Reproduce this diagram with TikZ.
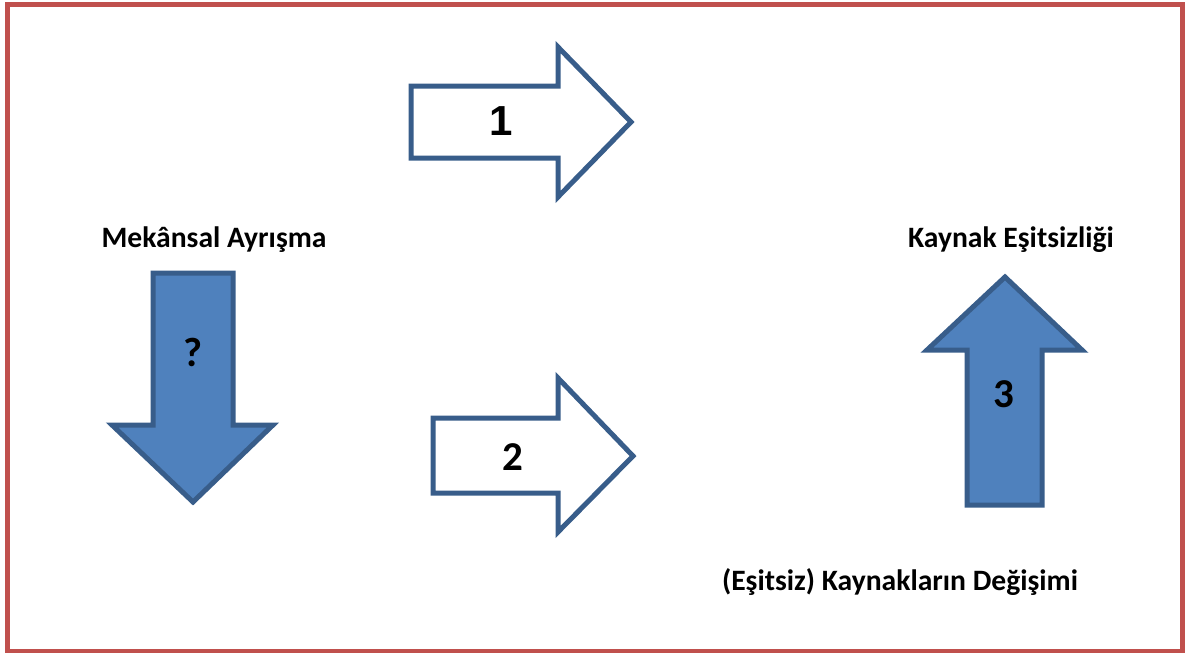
\documentclass[tikz,border=0pt]{standalone}
\usepackage{fontspec}
\setmainfont{Carlito}
\newfontfamily\arialfont{Liberation Sans}
\definecolor{arrowfill}{HTML}{4F81BD}
\definecolor{arrowline}{HTML}{385D8A}
\definecolor{frame}{HTML}{C0504D}
\begin{document}
\begin{tikzpicture}[x=1pt,y=-1pt,
  outline/.style={draw=arrowline,line width=5pt,fill=white,line join=miter},
  solid arrow/.style={draw=arrowline,line width=5pt,fill=arrowfill,line join=miter},
  label/.style={font=\fontsize{29.6}{32}\selectfont\bfseries,anchor=base,inner sep=0pt},
  num/.style={font=\fontsize{41}{44}\selectfont\bfseries,inner sep=0pt}]
\useasboundingbox (0,0) rectangle (1195,653);
\draw[frame,line width=5pt] (7.5,4.5) rectangle (1182.5,651);
% arrow 1
\draw[outline] (411,86) -- (558,86) -- (558,47) -- (631,122) -- (558,197) -- (558,158) -- (411,158) -- cycle;
\node[num,font=\fontsize{42}{46}\selectfont\bfseries\arialfont] (n1) at (501,121) {1};
% arrow 2
\draw[outline] (433,418) -- (558,418) -- (558,378) -- (633,456) -- (558,532) -- (558,493) -- (433,493) -- cycle;
\node[num] (n2) at (513,457) {2};
% down arrow
\draw[solid arrow] (153,273) -- (233,273) -- (233,425) -- (273,425) -- (193,502) -- (112,425) -- (153,425) -- cycle;
\node[num] (nq) at (193,352) {?};
% up arrow
\draw[solid arrow] (1005,277) -- (1082,350) -- (1042,350) -- (1042,505) -- (967,505) -- (967,350) -- (927,350) -- cycle;
\node[num] (n3) at (1004,394) {3};
% labels
\node[label] (seg) at (214,247) {Mekânsal Ayrışma};
\node[label] (ineq) at (1011,247) {Kaynak Eşitsizliği};
\node[label] (chg) at (900,590) {(Eşitsiz) Kaynakların Değişimi};
\end{tikzpicture}
\end{document}
